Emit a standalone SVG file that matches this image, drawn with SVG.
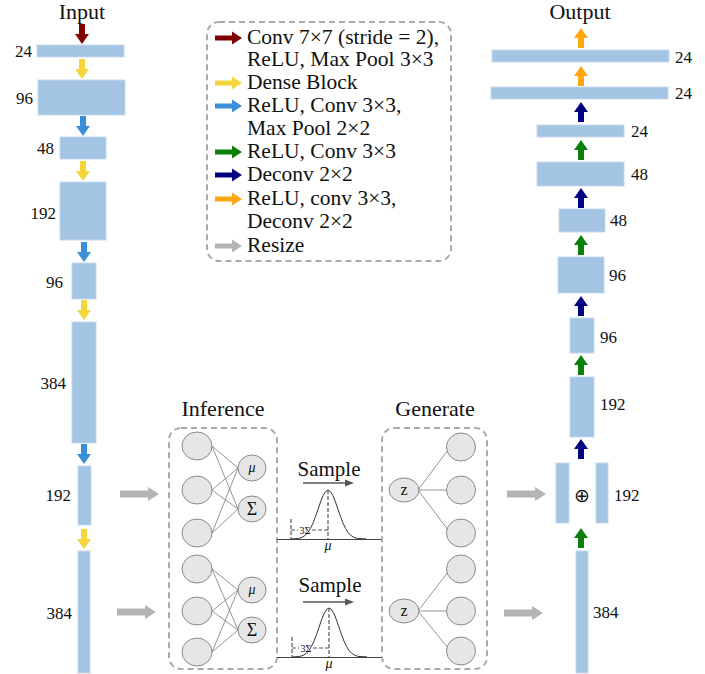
<svg xmlns="http://www.w3.org/2000/svg" width="705" height="674" viewBox="0 0 705 674" font-family="'Liberation Serif', 'Times New Roman', Tinos, 'DejaVu Serif', serif">
<style>
text{font-family:'Liberation Serif','Times New Roman',Tinos,'DejaVu Serif',serif;fill:#111}
.t{font-size:22px}
.lg{font-size:21.5px}
.n{font-size:17px}
.box{fill:#a4c4e3;stroke:#c4d9ee;stroke-width:1}
.dash{fill:none;stroke:#aaaaaa;stroke-width:2;stroke-dasharray:6 4}
.nd{fill:#e6e6e6;stroke:#8a8a8a;stroke-width:1}
.ln{stroke:#7a7a7a;stroke-width:0.8;fill:none}
.gd{stroke:#555;stroke-width:1.2;stroke-dasharray:4 2;fill:none}
</style>
<defs>
<path id="aDown" d="M-3,0 H3 V10 H7 L0,20 L-7,10 H-3 Z"/>
<path id="aUp" d="M-3,20 H3 V10 H7 L0,0 L-7,10 H-3 Z"/>
<path id="aRes" d="M0,-3.5 H28 V-7 L39,0 L28,7 V3.5 H0 Z"/>
<path id="aLeg" d="M0,-2.5 H17 V-6.5 L27,0 L17,6.5 V2.5 H0 Z"/>
</defs>

<!-- titles -->
<text class="t" x="82" y="19" text-anchor="middle">Input</text>
<text class="t" x="580" y="19" text-anchor="middle">Output</text>

<!-- legend -->
<g id="legend">
<rect class="dash" x="207" y="22" width="244" height="239" rx="12"/>
<use href="#aLeg" x="215" y="38" fill="#800000"/>
<use href="#aLeg" x="215" y="83" fill="#f4d63a"/>
<use href="#aLeg" x="215" y="106" fill="#3b8fd8"/>
<use href="#aLeg" x="215" y="152" fill="#0a800a"/>
<use href="#aLeg" x="215" y="175" fill="#000080"/>
<use href="#aLeg" x="215" y="199" fill="#ffa710"/>
<use href="#aLeg" x="215" y="246" fill="#b4b4b4"/>
<text class="lg" x="247" y="44">Conv 7×7 (stride = 2),</text>
<text class="lg" x="247" y="66">ReLU, Max Pool 3×3</text>
<text class="lg" x="247" y="89">Dense Block</text>
<text class="lg" x="247" y="112">ReLU, Conv 3×3,</text>
<text class="lg" x="247" y="135">Max Pool 2×2</text>
<text class="lg" x="247" y="158">ReLU, Conv 3×3</text>
<text class="lg" x="247" y="181">Deconv 2×2</text>
<text class="lg" x="247" y="205">ReLU, conv 3×3,</text>
<text class="lg" x="247" y="228">Deconv 2×2</text>
<text class="lg" x="247" y="252">Resize</text>
</g>

<!-- left column -->
<g id="enc1"><rect class="box" x="37" y="45" width="87" height="12"/><text class="n" x="32" y="57" text-anchor="end">24</text></g>
<g id="enc2"><rect class="box" x="38" y="80" width="87" height="35"/><text class="n" x="33" y="104" text-anchor="end">96</text></g>
<g id="enc3"><rect class="box" x="60" y="137" width="46" height="22"/><text class="n" x="54" y="154" text-anchor="end">48</text></g>
<g id="enc4"><rect class="box" x="60" y="182" width="46" height="58"/><text class="n" x="56" y="219" text-anchor="end">192</text></g>
<g id="enc5"><rect class="box" x="72" y="263" width="24" height="36"/><text class="n" x="63" y="288" text-anchor="end">96</text></g>
<g id="enc6"><rect class="box" x="72" y="322" width="24" height="121"/><text class="n" x="66" y="389" text-anchor="end">384</text></g>
<g id="enc7"><rect class="box" x="78" y="466" width="13" height="59"/><text class="n" x="71" y="501" text-anchor="end">192</text></g>
<g id="enc8"><rect class="box" x="78" y="551" width="12" height="122"/><text class="n" x="72" y="619" text-anchor="end">384</text></g>

<!-- right column -->
<g id="dec1"><rect class="box" x="492" y="50" width="177" height="12"/><text class="n" x="675" y="63">24</text></g>
<g id="dec2"><rect class="box" x="491" y="87" width="177" height="12"/><text class="n" x="675" y="99">24</text></g>
<g id="dec3"><rect class="box" x="537" y="125" width="87" height="12"/><text class="n" x="631" y="137">24</text></g>
<g id="dec4"><rect class="box" x="537" y="162" width="87" height="24"/><text class="n" x="631" y="180">48</text></g>
<g id="dec5"><rect class="box" x="559" y="209" width="46" height="23"/><text class="n" x="610" y="226">48</text></g>
<g id="dec6"><rect class="box" x="558" y="257" width="46" height="36"/><text class="n" x="609" y="281">96</text></g>
<g id="dec7"><rect class="box" x="570" y="318" width="24" height="35"/><text class="n" x="600" y="343">96</text></g>
<g id="dec8"><rect class="box" x="570" y="377" width="24" height="60"/><text class="n" x="600" y="410">192</text></g>
<g id="dec9"><rect class="box" x="556" y="463" width="13" height="60"/><rect class="box" x="596" y="463" width="12" height="60"/>
<text x="582" y="502" text-anchor="middle" style="font-family:'DejaVu Sans',sans-serif;font-size:19px">⊕</text>
<text class="n" x="614" y="501">192</text></g>
<g id="dec10"><rect class="box" x="576" y="551" width="12" height="122"/><text class="n" x="593" y="618">384</text></g>

<!-- inference -->
<g id="inference">
<text class="t" x="223" y="416" text-anchor="middle">Inference</text>
<rect class="dash" x="169" y="428" width="108" height="241" rx="12"/>
<g class="ln">
<path d="M212,446 L238,468 M212,446 L238,509 M212,490 L238,468 M212,490 L238,509 M212,533 L238,468 M212,533 L238,509"/>
<path d="M212,569 L238,590 M212,569 L238,630 M212,611 L238,590 M212,611 L238,630 M212,652 L238,590 M212,652 L238,630"/>
</g>
<ellipse class="nd" cx="197" cy="446" rx="15" ry="14"/>
<ellipse class="nd" cx="197" cy="490" rx="15" ry="14"/>
<ellipse class="nd" cx="197" cy="533" rx="15" ry="14"/>
<ellipse class="nd" cx="197" cy="569" rx="15" ry="14"/>
<ellipse class="nd" cx="197" cy="611" rx="15" ry="14"/>
<ellipse class="nd" cx="197" cy="652" rx="15" ry="14"/>
<ellipse class="nd" cx="252" cy="468" rx="14" ry="13"/>
<ellipse class="nd" cx="252" cy="509" rx="14" ry="13"/>
<ellipse class="nd" cx="252" cy="590" rx="14" ry="13"/>
<ellipse class="nd" cx="252" cy="630" rx="14" ry="13"/>
<text x="252" y="472" text-anchor="middle" font-size="14" font-style="italic">μ</text>
<text x="252" y="515" text-anchor="middle" font-size="18">Σ</text>
<text x="252" y="594" text-anchor="middle" font-size="14" font-style="italic">μ</text>
<text x="252" y="636" text-anchor="middle" font-size="18">Σ</text>
</g>

<!-- sampling -->
<g id="sample1">
<text x="329" y="476" text-anchor="middle" font-size="21">Sample</text>
<line x1="303" y1="483" x2="346" y2="483" stroke="#595959" stroke-width="1.5"/>
<polygon points="345,479.5 354,483 345,486.5" fill="#595959"/>
<line x1="277" y1="539.5" x2="382" y2="539.5" stroke="#444" stroke-width="1"/>
<polyline fill="none" stroke="#333" stroke-width="1" points="291,539 298,538.5 300.5,537.9 303,536.9 305.5,535.1 308,532.4 310.5,528.4 313,523.1 315.5,516.6 318,509.3 320.5,502 323,495.8 325.5,491.5 328,490 330.5,491.5 333,495.8 335.5,502 338,509.3 340.5,516.6 343,523.1 345.5,528.4 348,532.4 350.5,535.1 353,536.9 355.5,537.9 358,538.5 366,538.9"/>
<path class="gd" d="M328,490 V539 M291,519 V539 M291,530 H298 M312,530 H328"/>
<text x="305" y="533.5" text-anchor="middle" font-size="10">3Σ</text>
<text x="328" y="550" text-anchor="middle" font-size="14" font-style="italic">μ</text>
</g>
<g id="sample2">
<text x="330" y="592" text-anchor="middle" font-size="21">Sample</text>
<line x1="303" y1="602" x2="346" y2="602" stroke="#595959" stroke-width="1.5"/>
<polygon points="345,598.5 354,602 345,605.5" fill="#595959"/>
<line x1="277" y1="657.5" x2="382" y2="657.5" stroke="#444" stroke-width="1"/>
<polyline transform="translate(1,118)" fill="none" stroke="#333" stroke-width="1" points="291,539 298,538.5 300.5,537.9 303,536.9 305.5,535.1 308,532.4 310.5,528.4 313,523.1 315.5,516.6 318,509.3 320.5,502 323,495.8 325.5,491.5 328,490 330.5,491.5 333,495.8 335.5,502 338,509.3 340.5,516.6 343,523.1 345.5,528.4 348,532.4 350.5,535.1 353,536.9 355.5,537.9 358,538.5 366,538.9"/>
<path class="gd" d="M329,608 V657 M292,637 V657 M292,648 H299 M313,648 H329"/>
<text x="306" y="651.5" text-anchor="middle" font-size="10">3Σ</text>
<text x="329" y="668" text-anchor="middle" font-size="14" font-style="italic">μ</text>
</g>

<!-- generate -->
<g id="generate">
<text class="t" x="435" y="416" text-anchor="middle">Generate</text>
<rect class="dash" x="382" y="428" width="105" height="241" rx="12"/>
<g class="ln">
<path d="M418,490 L448,450 M418,490 L447,490 M418,490 L448,530"/>
<path d="M418,611 L448,572 M418,611 L447,611 M418,611 L448,648"/>
</g>
<ellipse class="nd" cx="404" cy="490" rx="15" ry="12"/>
<ellipse class="nd" cx="404" cy="611" rx="15" ry="12"/>
<text x="404" y="495" text-anchor="middle" font-size="16">z</text>
<text x="404" y="616" text-anchor="middle" font-size="16">z</text>
<ellipse class="nd" cx="461" cy="447" rx="14.5" ry="14"/>
<ellipse class="nd" cx="461" cy="490" rx="14.5" ry="14"/>
<ellipse class="nd" cx="461" cy="533" rx="14.5" ry="14"/>
<ellipse class="nd" cx="461" cy="569" rx="14.5" ry="14"/>
<ellipse class="nd" cx="461" cy="611" rx="14.5" ry="14"/>
<ellipse class="nd" cx="461" cy="651" rx="14.5" ry="14"/>
</g>

<!-- connectors -->
<g id="connectors">
<use href="#aDown" x="82" y="24" fill="#800000"/>
<use href="#aDown" x="82" y="59" fill="#f4d63a"/>
<use href="#aDown" x="83" y="116" fill="#3b8fd8"/>
<use href="#aDown" x="83" y="161" fill="#f4d63a"/>
<use href="#aDown" x="84" y="242" fill="#3b8fd8"/>
<use href="#aDown" x="84" y="300" fill="#f4d63a"/>
<use href="#aDown" x="84" y="444" fill="#3b8fd8"/>
<use href="#aDown" x="84" y="529" fill="#f4d63a"/>
<use href="#aUp" x="581" y="28" fill="#ffa710"/>
<use href="#aUp" x="581" y="66" fill="#ffa710"/>
<use href="#aUp" x="581" y="102" fill="#000080"/>
<use href="#aUp" x="581" y="140" fill="#0a800a"/>
<use href="#aUp" x="581" y="188" fill="#000080"/>
<use href="#aUp" x="581" y="235" fill="#0a800a"/>
<use href="#aUp" x="581" y="296" fill="#000080"/>
<use href="#aUp" x="581" y="355" fill="#0a800a"/>
<use href="#aUp" x="581" y="439" fill="#000080"/>
<use href="#aUp" x="581" y="528" fill="#0a800a"/>
<use href="#aRes" x="120" y="494" fill="#b4b4b4"/>
<use href="#aRes" x="117" y="612" fill="#b4b4b4"/>
<use href="#aRes" x="507" y="494" fill="#b4b4b4"/>
<use href="#aRes" x="504" y="613" fill="#b4b4b4"/>
</g>
</svg>
